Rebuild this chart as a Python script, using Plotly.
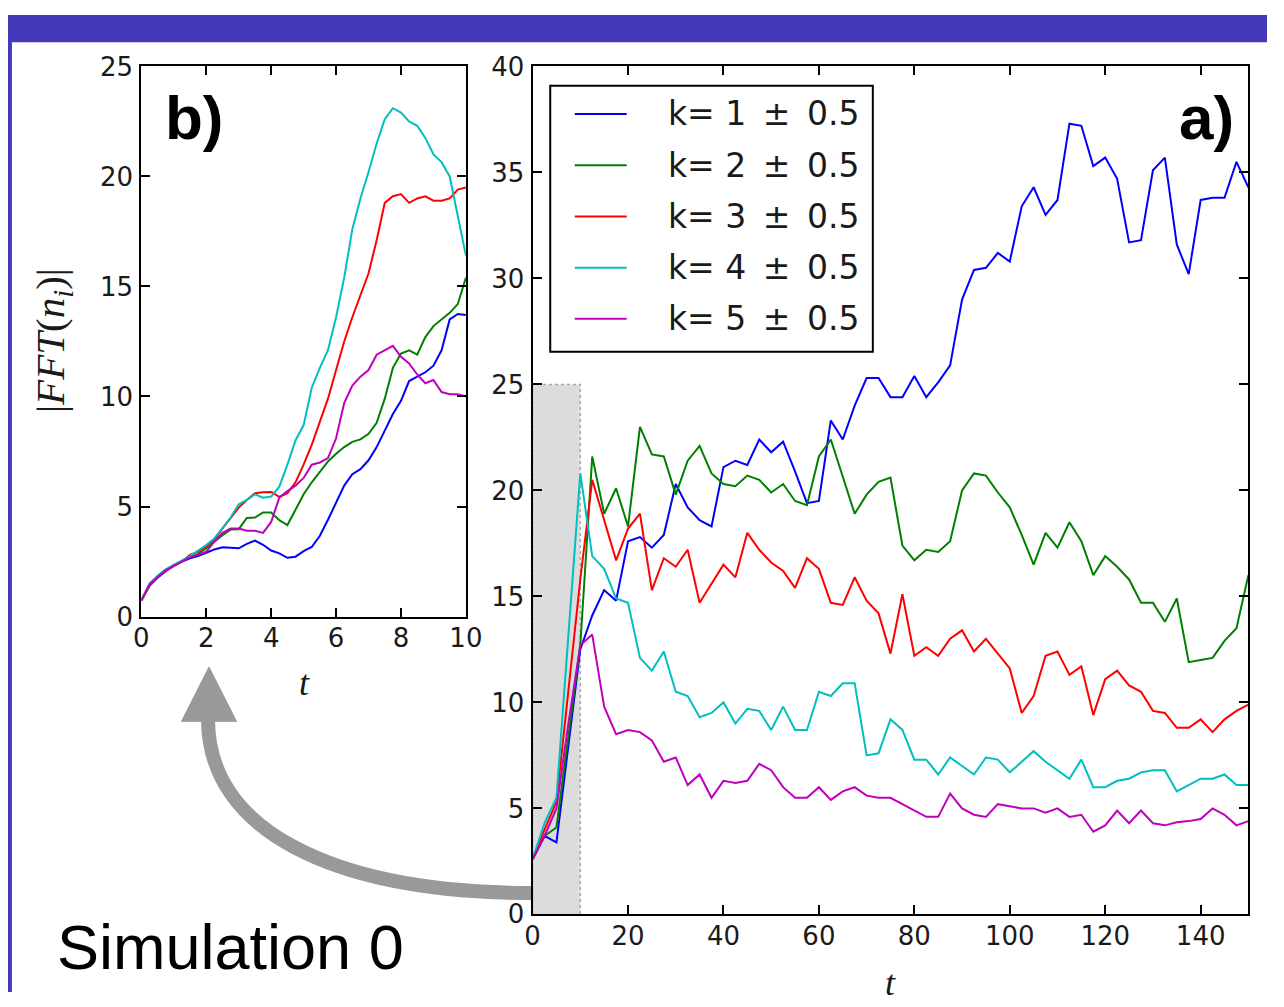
import numpy as np
import plotly.graph_objects as go

W, H = 1284, 1007

# ---- panel a: long run, sampled every 2.5 time units ----
t_long = np.arange(0, 150.0 + 1e-9, 2.5)

k1_long = [2.6, 3.7, 3.4, 8.0, 12.5, 14.1, 15.3, 14.8, 17.6, 17.8,
           17.3, 17.9, 20.3, 19.2, 18.6, 18.3, 21.1, 21.4, 21.2, 22.4,
           21.8, 22.3, 20.9, 19.4, 19.5, 23.3, 22.4, 24.0, 25.3, 25.3,
           24.4, 24.4, 25.4, 24.4, 25.1, 25.9, 29.0, 30.4, 30.5, 31.2,
           30.8, 33.4, 34.3, 33.0, 33.7, 37.3, 37.2, 35.3, 35.7, 34.7,
           31.7, 31.8, 35.1, 35.7, 31.6, 30.2, 33.7, 33.8, 33.8, 35.5,
           34.3]
k2_long = [2.6, 3.7, 4.1, 8.5, 12.7, 21.6, 18.9, 20.1, 18.3, 23.0,
           21.7, 21.6, 19.8, 21.4, 22.1, 20.8, 20.3, 20.2, 20.7, 20.5,
           19.9, 20.3, 19.5, 19.3, 21.6, 22.4, 20.6, 18.9, 19.8, 20.4,
           20.6, 17.4, 16.7, 17.2, 17.1, 17.6, 20.0, 20.8, 20.7, 19.9,
           19.2, 17.9, 16.5, 18.0, 17.3, 18.5, 17.6, 16.0, 16.9, 16.4,
           15.8, 14.7, 14.7, 13.8, 14.9, 11.9, 12.0, 12.1, 12.9, 13.5,
           16.0]
k3_long = [2.6, 4.0, 5.3, 10.5, 15.8, 20.5, 18.6, 16.7, 18.2, 18.9,
           15.3, 16.8, 16.4, 17.2, 14.7, 15.6, 16.5, 15.9, 18.0, 17.2,
           16.6, 16.2, 15.4, 16.8, 16.3, 14.7, 14.6, 15.9, 14.8, 14.2,
           12.3, 15.1, 12.2, 12.6, 12.2, 13.0, 13.4, 12.4, 13.0, 12.3,
           11.6, 9.5, 10.3, 12.2, 12.4, 11.3, 11.7, 9.4, 11.1, 11.5,
           10.8, 10.5, 9.6, 9.5, 8.8, 8.8, 9.2, 8.6, 9.2, 9.6,
           9.9]
k4_long = [2.6, 4.3, 5.5, 13.0, 20.8, 16.9, 16.3, 14.9, 14.7, 12.1,
           11.5, 12.4, 10.5, 10.3, 9.3, 9.5, 10.0, 9.0, 9.7, 9.6,
           8.7, 9.8, 8.7, 8.7, 10.5, 10.3, 10.9, 10.9, 7.5, 7.6,
           9.2, 8.7, 7.3, 7.3, 6.6, 7.4, 7.0, 6.6, 7.4, 7.3,
           6.7, 7.2, 7.7, 7.2, 6.8, 6.4, 7.3, 6.0, 6.0, 6.3,
           6.4, 6.7, 6.8, 6.8, 5.8, 6.1, 6.4, 6.4, 6.6, 6.1,
           6.1]
k5_long = [2.6, 3.7, 5.0, 9.0, 12.7, 13.2, 9.8, 8.5, 8.7, 8.6,
           8.2, 7.2, 7.4, 6.1, 6.6, 5.5, 6.3, 6.2, 6.3, 7.1,
           6.8, 6.0, 5.5, 5.5, 6.0, 5.4, 5.8, 6.0, 5.6, 5.5,
           5.5, 5.2, 4.9, 4.6, 4.6, 5.7, 5.0, 4.7, 4.6, 5.2,
           5.1, 5.0, 5.0, 4.8, 5.0, 4.6, 4.7, 3.9, 4.2, 4.9,
           4.3, 4.9, 4.3, 4.2, 4.35, 4.4, 4.5, 5.0, 4.7, 4.2,
           4.4]

# ---- panel b: early stage, finer sampling ----
t_short = np.arange(0, 10.0 + 1e-9, 0.25)

k1_short = [0.73, 1.4, 1.76, 2.06, 2.3, 2.5, 2.65, 2.75, 2.9, 3.05,
            3.15, 3.12, 3.1, 3.3, 3.45, 3.26, 3.0, 2.87, 2.67, 2.72,
            2.97, 3.16, 3.67, 4.4, 5.2, 5.95, 6.47, 6.7, 7.1, 7.7,
            8.45, 9.2, 9.8, 10.7, 10.9, 11.1, 11.4, 12.1, 13.5, 13.75,
            13.7]
k2_short = [0.73, 1.4, 1.8, 2.1, 2.35, 2.5, 2.7, 2.85, 3.1, 3.4,
            3.7, 3.95, 3.97, 4.48, 4.5, 4.73, 4.73, 4.38, 4.16, 4.85,
            5.56, 6.1, 6.6, 7.05, 7.4, 7.7, 7.94, 8.05, 8.3, 8.8,
            9.9, 11.3, 11.95, 12.1, 11.9, 12.7, 13.2, 13.5, 13.8, 14.2,
            15.4]
k3_short = [0.73, 1.45, 1.8, 2.1, 2.3, 2.5, 2.8, 2.95, 3.2, 3.5,
            4.0, 4.5, 4.95, 5.3, 5.6, 5.65, 5.66, 5.44, 5.6, 6.1,
            6.9, 7.8, 8.9, 9.9, 11.2, 12.5, 13.6, 14.6, 15.6, 17.1,
            18.8, 19.1, 19.2, 18.8, 19.0, 19.1, 18.9, 18.9, 19.0, 19.4,
            19.5]
k4_short = [0.73, 1.5, 1.85, 2.15, 2.35, 2.55, 2.75, 3.0, 3.25, 3.55,
            4.0, 4.5, 5.1, 5.3, 5.55, 5.4, 5.45, 5.9, 6.9, 8.0,
            8.7, 10.4, 11.3, 12.1, 13.6, 15.4, 17.6, 19.0, 20.2, 21.5,
            22.6, 23.1, 22.9, 22.5, 22.3, 21.75, 21.0, 20.65, 20.0, 18.2,
            16.4]
k5_short = [0.73, 1.45, 1.8, 2.1, 2.3, 2.5, 2.7, 2.8, 2.95, 3.4,
            3.8, 4.0, 4.0, 3.9, 3.9, 3.8, 4.3, 5.4, 5.7, 5.95,
            6.3, 6.9, 7.0, 7.2, 8.1, 9.7, 10.5, 10.9, 11.2, 11.9,
            12.1, 12.3, 11.8, 11.5, 11.0, 10.6, 10.75, 10.2, 10.1, 10.1,
            10.0]

labels = ["k= 1 ± 0.5", "k= 2 ± 0.5", "k= 3 ± 0.5", "k= 4 ± 0.5", "k= 5 ± 0.5"]
colors = ["#0000ff", "#008000", "#ff0000", "#00bfbf", "#bf00bf"]

# zoom window shown in panel b (and shaded in panel a)
ZOOM_T = [0, 10]
ZOOM_V = [0, 25]

long_series = [k1_long, k2_long, k3_long, k4_long, k5_long]
short_series = [k1_short, k2_short, k3_short, k4_short, k5_short]


def fx(px):
    return px / W


def fy(py):
    return 1 - py / H


fig = go.Figure()

for lab, col, ys in zip(labels, colors, long_series):
    fig.add_trace(go.Scatter(
        x=t_long, y=ys, mode="lines", name=lab,
        line=dict(color=col, width=2),
        xaxis="x", yaxis="y", showlegend=False))

for lab, col, ys in zip(labels, colors, short_series):
    fig.add_trace(go.Scatter(
        x=t_short, y=ys, mode="lines", name=lab,
        line=dict(color=col, width=2),
        xaxis="x2", yaxis="y2", showlegend=False))

tickfont = dict(family="DejaVu Sans", size=26, color="#1a1a1a")
axis_common = dict(
    showline=True, linecolor="black", linewidth=2, mirror="ticks",
    ticks="inside", ticklen=9, tickwidth=1.5, tickcolor="black",
    showgrid=False, zeroline=False, tickfont=tickfont,
)
x_common = dict(axis_common, ticklabelstandoff=-3)
y_common = dict(axis_common, ticklabelstandoff=1)

fig.update_layout(
    width=W, height=H,
    margin=dict(l=0, r=0, t=0, b=0),
    paper_bgcolor="white", plot_bgcolor="rgba(0,0,0,0)",
    xaxis=dict(domain=[fx(535), fx(1265)], range=[0, 150],
               tickvals=[0, 20, 40, 60, 80, 100, 120, 140], anchor="y",
               **x_common),
    yaxis=dict(domain=[fy(927), fy(53)], range=[0, 40],
               tickvals=[0, 5, 10, 15, 20, 25, 30, 35, 40], anchor="x",
               **y_common),
    xaxis2=dict(domain=[fx(136), fx(467)], range=ZOOM_T,
                tickvals=[0, 2, 4, 6, 8, 10], anchor="y2",
                **x_common),
    yaxis2=dict(domain=[fy(620), fy(53)], range=ZOOM_V,
                tickvals=[0, 5, 10, 15, 20, 25], anchor="x2",
                **y_common),
    showlegend=False,
)

shapes = []
# slide header bar and left edge
shapes.append(dict(type="rect", xref="paper", yref="paper",
                   x0=0, x1=1, y0=fy(28), y1=1,
                   fillcolor="#4339b9", line=dict(width=0), layer="above"))
shapes.append(dict(type="rect", xref="paper", yref="paper",
                   x0=0, x1=fx(4), y0=0, y1=1,
                   fillcolor="#4339b9", line=dict(width=0), layer="above"))
# shaded zoom window in panel a
shapes.append(dict(type="rect", xref="x", yref="y",
                   x0=ZOOM_T[0], x1=ZOOM_T[1], y0=ZOOM_V[0], y1=ZOOM_V[1],
                   fillcolor="#dcdcdc",
                   line=dict(color="#a8a8a8", width=1.5, dash="dot"),
                   layer="below"))

# curved arrow from the zoom window to panel b
p0, p1, p2, p3 = (536, 905), (330, 905), (205, 840), (204, 727)
path = "M {:.5f},{:.5f} C {:.5f},{:.5f} {:.5f},{:.5f} {:.5f},{:.5f}".format(
    fx(p0[0]), fy(p0[1]), fx(p1[0]), fy(p1[1]),
    fx(p2[0]), fy(p2[1]), fx(p3[0]), fy(p3[1]))
shapes.append(dict(type="path", xref="paper", yref="paper", path=path,
                   line=dict(color="#999999", width=14), layer="below"))
head = "M {:.5f},{:.5f} L {:.5f},{:.5f} L {:.5f},{:.5f} Z".format(
    fx(205), fy(672), fx(177), fy(728), fx(233), fy(728))
shapes.append(dict(type="path", xref="paper", yref="paper", path=head,
                   fillcolor="#999999", line=dict(color="#999999", width=1),
                   layer="below"))

# legend box for panel a (framed, with long line samples)
LEG_LEFT, LEG_TOP, LEG_RIGHT, LEG_BOTTOM = 553, 73, 882, 347
LEG_ROW0, LEG_ROW_STEP = 102, 52.8
shapes.append(dict(type="rect", xref="paper", yref="paper",
                   x0=fx(LEG_LEFT), x1=fx(LEG_RIGHT),
                   y0=fy(LEG_BOTTOM), y1=fy(LEG_TOP),
                   fillcolor="white", line=dict(color="black", width=2),
                   layer="above"))
annotations = []
for i, (lab, col) in enumerate(zip(labels, colors)):
    row_y = LEG_ROW0 + i * LEG_ROW_STEP
    shapes.append(dict(type="line", xref="paper", yref="paper",
                       x0=fx(578), x1=fx(631), y0=fy(row_y), y1=fy(row_y),
                       line=dict(color=col, width=2), layer="above"))
    annotations.append(dict(
        text=lab.replace(" ± ", "\u2002±\u2002"),
        x=fx(671), y=fy(row_y), xref="paper", yref="paper",
        xanchor="left", yanchor="middle", showarrow=False,
        font=dict(family="DejaVu Sans", size=33, color="#1a1a1a")))

fig.update_layout(shapes=shapes)

annotations += [
    dict(text="<b>b)</b>", x=fx(158), y=fy(106), xref="paper", yref="paper",
         xanchor="left", yanchor="middle", showarrow=False,
         font=dict(family="Liberation Sans", size=62, color="black")),
    dict(text="<b>a)</b>", x=fx(1252), y=fy(106), xref="paper", yref="paper",
         xanchor="right", yanchor="middle", showarrow=False,
         font=dict(family="Liberation Sans", size=62, color="black")),
    dict(text="<i>t</i>", x=fx(302), y=fy(688), xref="paper", yref="paper",
         xanchor="center", yanchor="middle", showarrow=False,
         font=dict(family="Liberation Serif", size=36, color="#1a1a1a")),
    dict(text="<i>t</i>", x=fx(900), y=fy(998), xref="paper", yref="paper",
         xanchor="center", yanchor="middle", showarrow=False,
         font=dict(family="Liberation Serif", size=36, color="#1a1a1a")),
    dict(text="|<i>FFT</i>(<i>n<sub>i</sub></i>)|", x=fx(46), y=fy(336),
         xref="paper", yref="paper", textangle=-90,
         xanchor="center", yanchor="middle", showarrow=False,
         font=dict(family="Liberation Serif", size=41, color="#1a1a1a")),
    dict(text="Simulation 0", x=fx(48), y=fy(961), xref="paper", yref="paper",
         xanchor="left", yanchor="middle", showarrow=False,
         font=dict(family="Liberation Sans", size=63, color="black")),
]
fig.update_layout(annotations=annotations)

fig.write_html("out.html")
